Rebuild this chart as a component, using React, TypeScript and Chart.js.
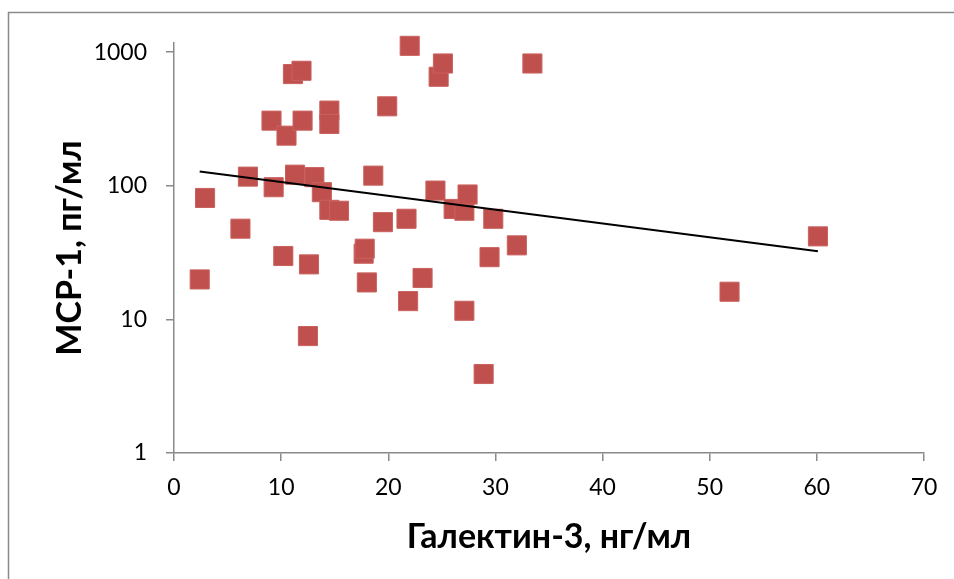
import React, { useEffect, useRef } from "react";
import { Chart, registerables } from "chart.js";

Chart.register(...registerables);

const galectin = [
  2.4, 2.9, 6.2, 6.9, 9.1, 9.3, 10.2, 10.5, 11.1, 11.3, 11.9, 12.0, 12.5, 12.6, 13.1,
  13.8, 14.5, 14.5, 14.5, 15.4, 17.7, 17.8, 18.0, 18.6, 19.5, 19.9, 21.7, 21.85, 22.0,
  23.2, 24.4, 24.7, 25.1, 26.1, 27.1, 27.1, 27.4, 28.9, 29.45, 29.8, 32.0, 33.45, 51.85, 60.1,
];
const mcp1 = [
  19.9, 81, 47.7, 117, 307, 97.5, 29.8, 237, 685, 121, 725, 307, 7.5, 25.8, 116,
  89.5, 365, 290, 66, 65, 31, 33.8, 18.9, 119, 53.4, 393, 56.6, 13.7, 1114,
  20.4, 92, 654, 822, 67, 65, 11.6, 86, 3.9, 29.2, 56.6, 35.8, 822, 16.1, 41.8,
];
const trendX = [2.4, 60.1];
const trendY = [128, 32.4];
const yTicks = [1, 10, 100, 1000];
const xTitle = "Галектин-3, нг/мл";
const yTitle = "МСР-1, пг/мл";

const framePlugin = {
  id: "frame",
  beforeDraw(chart: any) {
    const ctx = chart.ctx;
    ctx.save();
    ctx.strokeStyle = "#8a8a8a";
    ctx.lineWidth = 1.5;
    ctx.beginPath();
    ctx.moveTo(8.5, 579);
    ctx.lineTo(8.5, 12.5);
    ctx.lineTo(954, 12.5);
    ctx.stroke();
    ctx.restore();
  },
};

export default function App() {
  const ref = useRef<HTMLCanvasElement>(null);
  useEffect(() => {
    if (!ref.current) return;
    const fontFamily = "Lato, 'Open Sans', sans-serif";
    const chart = new Chart(ref.current, {
      type: "scatter",
      data: {
        datasets: [
          {
            type: "line",
            data: trendX.map((x, i) => ({ x, y: trendY[i] })),
            borderColor: "#000000",
            borderWidth: 2,
            pointRadius: 0,
            fill: false,
            clip: false,
          } as any,
          {
            data: galectin.map((x, i) => ({ x, y: mcp1[i] })),
            pointStyle: "rect",
            pointRadius: 13.5,
            pointHoverRadius: 13.5,
            backgroundColor: "#C0504D",
            borderColor: "#C9625F",
            borderWidth: 1,
            clip: false,
          } as any,
        ],
      },
      options: {
        animation: false,
        responsive: false,
        maintainAspectRatio: false,
        layout: { padding: { left: 0, right: 30, top: 43, bottom: 0 } },
        plugins: { legend: { display: false }, tooltip: { enabled: false } },
        scales: {
          x: {
            type: "linear",
            min: 0,
            max: 70,
            ticks: {
              stepSize: 10,
              color: "#000",
              font: { family: fontFamily, size: 23 },
              padding: 13,
            },
            grid: { drawOnChartArea: false, tickLength: 8, color: "#8a8a8a", lineWidth: 1.5 },
            border: { color: "#8a8a8a", width: 1.5 },
            title: {
              display: true,
              text: xTitle,
              color: "#000",
              font: { family: fontFamily, size: 34, weight: "bold" },
              padding: { top: 0, bottom: 22 },
            },
            afterFit(scale: any) {
              scale.height = 126;
            },
          },
          y: {
            type: "logarithmic",
            min: 1,
            max: 1170,
            afterBuildTicks(scale: any) {
              scale.ticks = yTicks.map((v) => ({ value: v }));
            },
            ticks: {
              color: "#000",
              font: { family: fontFamily, size: 23 },
              padding: 19,
              callback: (v: any) => String(v),
            },
            grid: { drawOnChartArea: false, tickLength: 8, color: "#8a8a8a", lineWidth: 1.5 },
            border: { color: "#8a8a8a", width: 1.5 },
            title: {
              display: true,
              text: yTitle,
              color: "#000",
              font: { family: fontFamily, size: 34, weight: "bold" },
              padding: { top: 50, bottom: 0 },
            },
            afterFit(scale: any) {
              scale.width = 174;
            },
          },
        },
      },
      plugins: [framePlugin],
    });
    return () => chart.destroy();
  }, []);
  return (
    <div style={{ position: "absolute", left: 0, top: 0, width: 954, height: 579, background: "#fff" }}>
      <canvas ref={ref} width={954} height={579} style={{ width: 954, height: 579 }} />
    </div>
  );
}
